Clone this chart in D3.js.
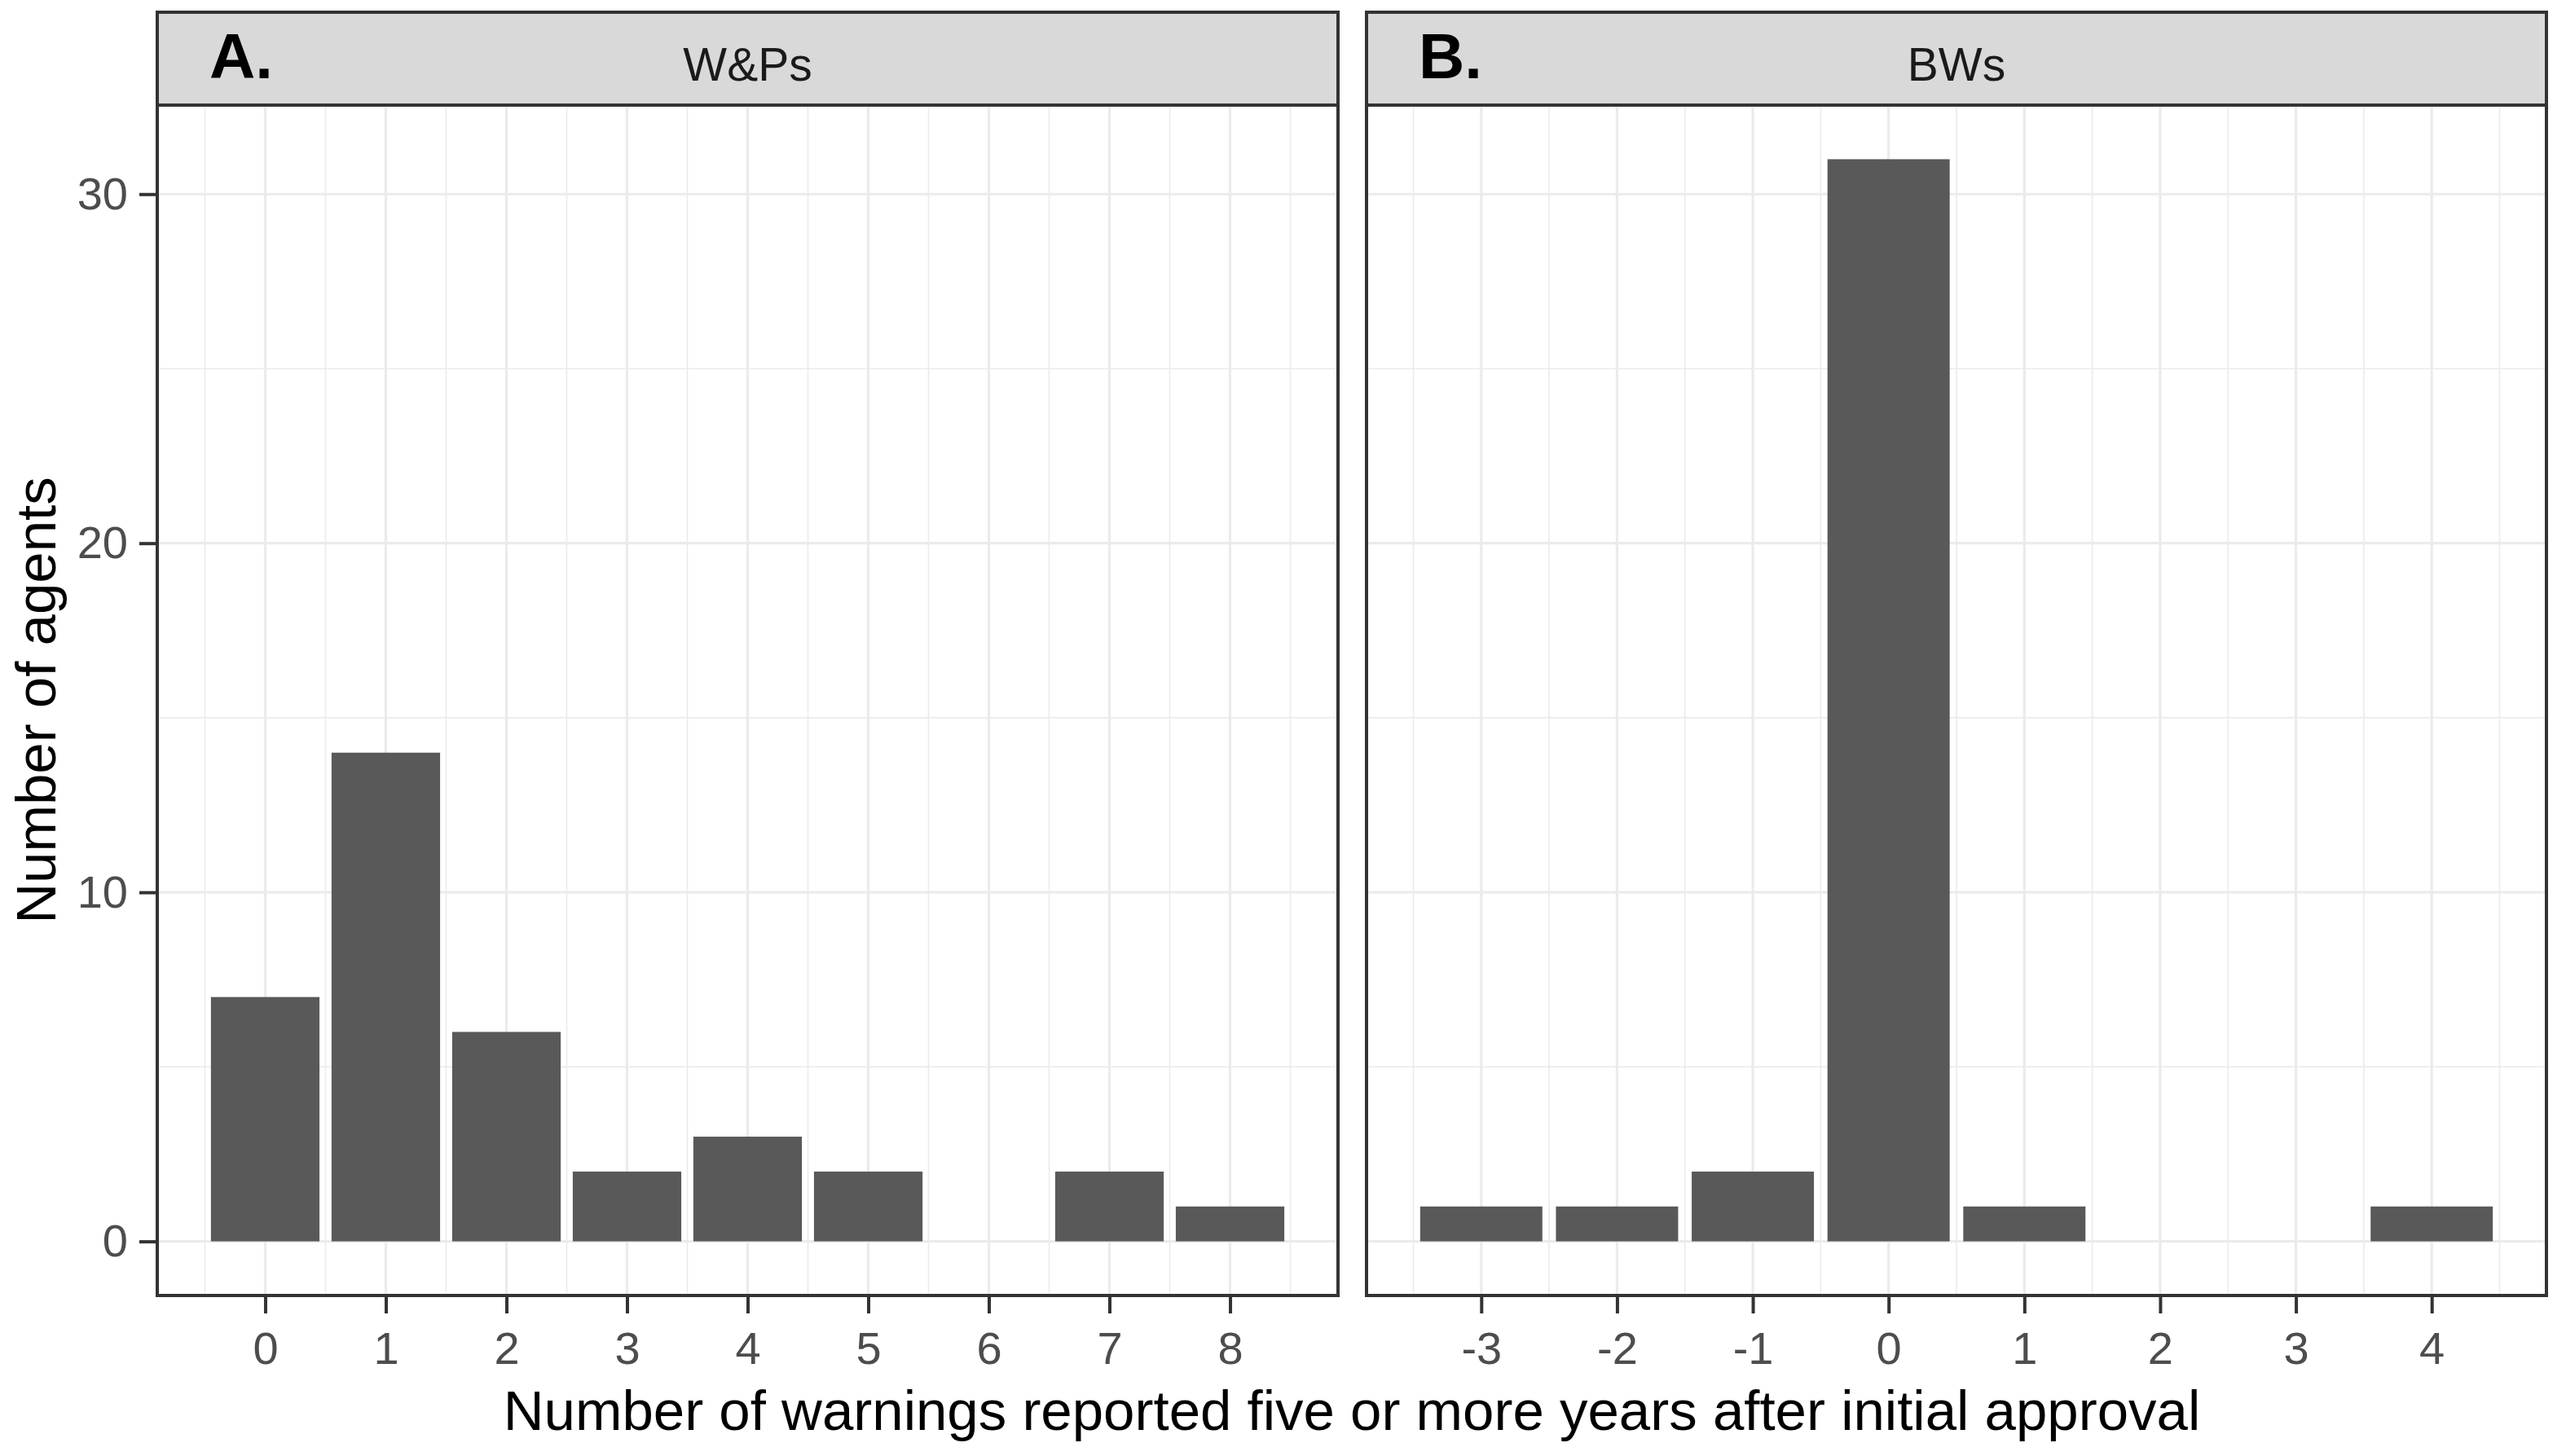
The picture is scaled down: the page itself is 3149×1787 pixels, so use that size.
<!DOCTYPE html>
<html>
<head>
<meta charset="utf-8">
<script src="https://cdn.jsdelivr.net/npm/d3@7"></script>
<style>
  body { margin: 0; background: #fff; }
  text { font-family: "Liberation Sans", Arial, sans-serif; }
</style>
</head>
<body>
<svg id="chart" width="3149" height="1787"></svg>
<script>
const width = 3149;
const height = 1787;

// data
const warningsA = [0, 1, 2, 3, 4, 5, 6, 7, 8];
const agentsA = [7, 14, 6, 2, 3, 2, 0, 2, 1];
const warningsB = [-3, -2, -1, 0, 1, 2, 3, 4];
const agentsB = [1, 1, 2, 31, 1, 0, 0, 1];
const yTicks = [0, 10, 20, 30];
const panelTags = ["A.", "B."];
const panelNames = ["W&Ps", "BWs"];

// layout
const stripTop = 15, plotTop = 129, plotBottom = 1590;
const panels = [
  {left: 193, right: 1642, cats: warningsA, vals: agentsA},
  {left: 1677, right: 3125, cats: warningsB, vals: agentsB}
];
const barWidth = 0.9;

const svg = d3.select("#chart");

// shared y scale (ggplot style 5% expansion)
const yMax = d3.max(agentsA.concat(agentsB));
const yPad = yMax * 0.05;
const y = d3.scaleLinear()
    .domain([-yPad, yMax + yPad])
    .range([plotBottom, plotTop]);
const yMinor = [5, 15, 25];

panels.forEach((p, i) => {
    const lo = d3.min(p.cats) - barWidth / 2, hi = d3.max(p.cats) + barWidth / 2;
    const pad = (hi - lo) * 0.05;
    const x = d3.scaleLinear()
        .domain([lo - pad, hi + pad])
        .range([p.left, p.right]);

    const g = svg.append("g");

    // minor grid
    const xMinor = p.cats.map(c => c - 0.5).concat([d3.max(p.cats) + 0.5]);
    g.selectAll(".xminor").data(xMinor).enter().append("line")
        .attr("x1", d => x(d)).attr("x2", d => x(d))
        .attr("y1", plotTop).attr("y2", plotBottom)
        .attr("stroke", "#ebebeb").attr("stroke-width", 1.6);
    g.selectAll(".yminor").data(yMinor).enter().append("line")
        .attr("x1", p.left).attr("x2", p.right)
        .attr("y1", d => y(d)).attr("y2", d => y(d))
        .attr("stroke", "#ebebeb").attr("stroke-width", 1.6);

    // major grid
    g.selectAll(".xmajor").data(p.cats).enter().append("line")
        .attr("x1", d => x(d)).attr("x2", d => x(d))
        .attr("y1", plotTop).attr("y2", plotBottom)
        .attr("stroke", "#ebebeb").attr("stroke-width", 3.2);
    g.selectAll(".ymajor").data(yTicks).enter().append("line")
        .attr("x1", p.left).attr("x2", p.right)
        .attr("y1", d => y(d)).attr("y2", d => y(d))
        .attr("stroke", "#ebebeb").attr("stroke-width", 3.2);

    // bars
    g.selectAll("rect.bar")
        .data(p.cats.map((c, j) => ({c: c, v: p.vals[j]})).filter(d => d.v > 0))
        .enter().append("rect")
        .attr("class", "bar")
        .attr("x", d => x(d.c - barWidth / 2))
        .attr("width", d => x(d.c + barWidth / 2) - x(d.c - barWidth / 2))
        .attr("y", d => y(d.v))
        .attr("height", d => y(0) - y(d.v))
        .attr("fill", "#595959");

    // panel border
    g.append("rect")
        .attr("x", p.left).attr("y", plotTop)
        .attr("width", p.right - p.left).attr("height", plotBottom - plotTop)
        .attr("fill", "none").attr("stroke", "#333").attr("stroke-width", 4);

    // strip
    g.append("rect")
        .attr("x", p.left).attr("y", stripTop)
        .attr("width", p.right - p.left).attr("height", plotTop - stripTop)
        .attr("fill", "#d9d9d9").attr("stroke", "#333").attr("stroke-width", 4);
    g.append("text")
        .attr("x", (p.left + p.right) / 2)
        .attr("y", 99)
        .attr("text-anchor", "middle")
        .attr("font-size", "57px")
        .attr("fill", "#1a1a1a")
        .text(panelNames[i]);
    g.append("text")
        .attr("x", p.left + 64)
        .attr("y", 96)
        .attr("font-size", "78px")
        .attr("font-weight", "bold")
        .attr("fill", "#000")
        .text(panelTags[i]);

    // x axis
    const xAxis = g.append("g")
        .attr("transform", `translate(0, ${plotBottom})`)
        .call(d3.axisBottom(x).tickValues(p.cats).tickFormat(d3.format("d")).tickSize(22).tickPadding(22));
    xAxis.select(".domain").remove();
    xAxis.selectAll(".tick line").attr("stroke", "#333").attr("stroke-width", 4);
    xAxis.selectAll(".tick text")
        .attr("font-size", "56px")
        .attr("fill", "#4d4d4d")
        .attr("font-family", "Liberation Sans, Arial, sans-serif")
        .text(d => d < 0 ? "-" + Math.abs(d) : d);

    // y axis only on the first panel
    if (i === 0) {
        const yAxis = g.append("g")
            .attr("transform", `translate(${p.left}, 0)`)
            .call(d3.axisLeft(y).tickValues(yTicks).tickSize(22).tickPadding(14));
        yAxis.select(".domain").remove();
        yAxis.selectAll(".tick line").attr("stroke", "#333").attr("stroke-width", 4);
        yAxis.selectAll(".tick text")
            .attr("font-size", "56px")
            .attr("fill", "#4d4d4d")
            .attr("font-family", "Liberation Sans, Arial, sans-serif");
    }
});

// X label
svg.append("text")
    .attr("x", (193 + 3125) / 2)
    .attr("y", 1755)
    .attr("text-anchor", "middle")
    .attr("font-size", "69px")
    .attr("fill", "#000")
    .text("Number of warnings reported five or more years after initial approval");

// Y label
svg.append("text")
    .attr("transform", `translate(68, ${(plotTop + plotBottom) / 2}) rotate(-90)`)
    .attr("text-anchor", "middle")
    .attr("font-size", "69px")
    .attr("fill", "#000")
    .text("Number of agents");
</script>
</body>
</html>
